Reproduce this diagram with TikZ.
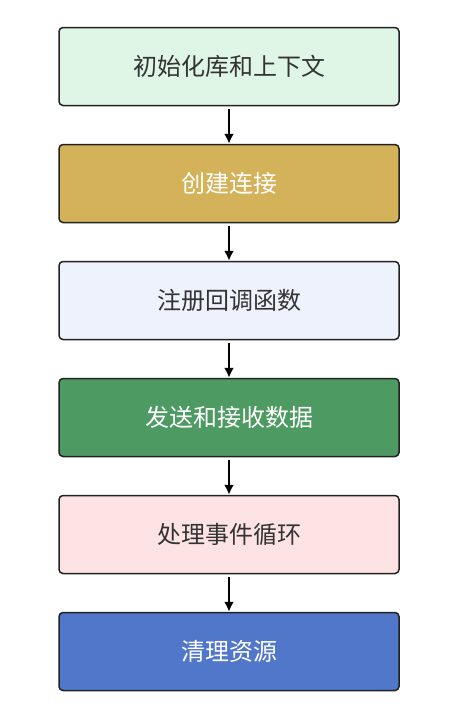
\documentclass[tikz,border=0pt]{standalone}
\usepackage{fontspec}
\setmainfont{Noto Sans CJK SC}
\usetikzlibrary{arrows.meta}
\definecolor{initfill}{HTML}{DFF5E6}
\definecolor{connfill}{HTML}{D4B25A}
\definecolor{regfill}{HTML}{EEF2FC}
\definecolor{sendfill}{HTML}{4E9A63}
\definecolor{loopfill}{HTML}{FDE3E4}
\definecolor{cleanfill}{HTML}{5077C9}
\definecolor{boxline}{HTML}{222222}
\definecolor{darktext}{HTML}{333333}
\begin{document}
\begin{tikzpicture}[
        stepbox/.style={draw=boxline, line width=1.5pt, rounded corners=4pt,
            minimum width=340pt, minimum height=78pt, font=\fontsize{24}{28}\selectfont},
        flow/.style={-{Latex[length=10pt,width=10pt]}, line width=2pt, shorten <=3pt}
    ]
            \useasboundingbox (0,0) rectangle (451pt,-723pt);
            \node[stepbox, fill=initfill, text=darktext] (init) at (229pt,-66.5pt) {初始化库和上下文};
            \node[stepbox, fill=connfill, text=white] (conn) at (229pt,-183.5pt) {创建连接};
            \node[stepbox, fill=regfill, text=darktext] (reg) at (229pt,-300.5pt) {注册回调函数};
            \node[stepbox, fill=sendfill, text=white] (send) at (229pt,-417.5pt) {发送和接收数据};
            \node[stepbox, fill=loopfill, text=darktext] (loop) at (229pt,-534.5pt) {处理事件循环};
            \node[stepbox, fill=cleanfill, text=white] (clean) at (229pt,-651.5pt) {清理资源};
            
            \draw[flow] (init) -- (conn);
            \draw[flow] (conn) -- (reg);
            \draw[flow] (reg) -- (send);
            \draw[flow] (send) -- (loop);
            \draw[flow] (loop) -- (clean);
        \end{tikzpicture}
\end{document}
